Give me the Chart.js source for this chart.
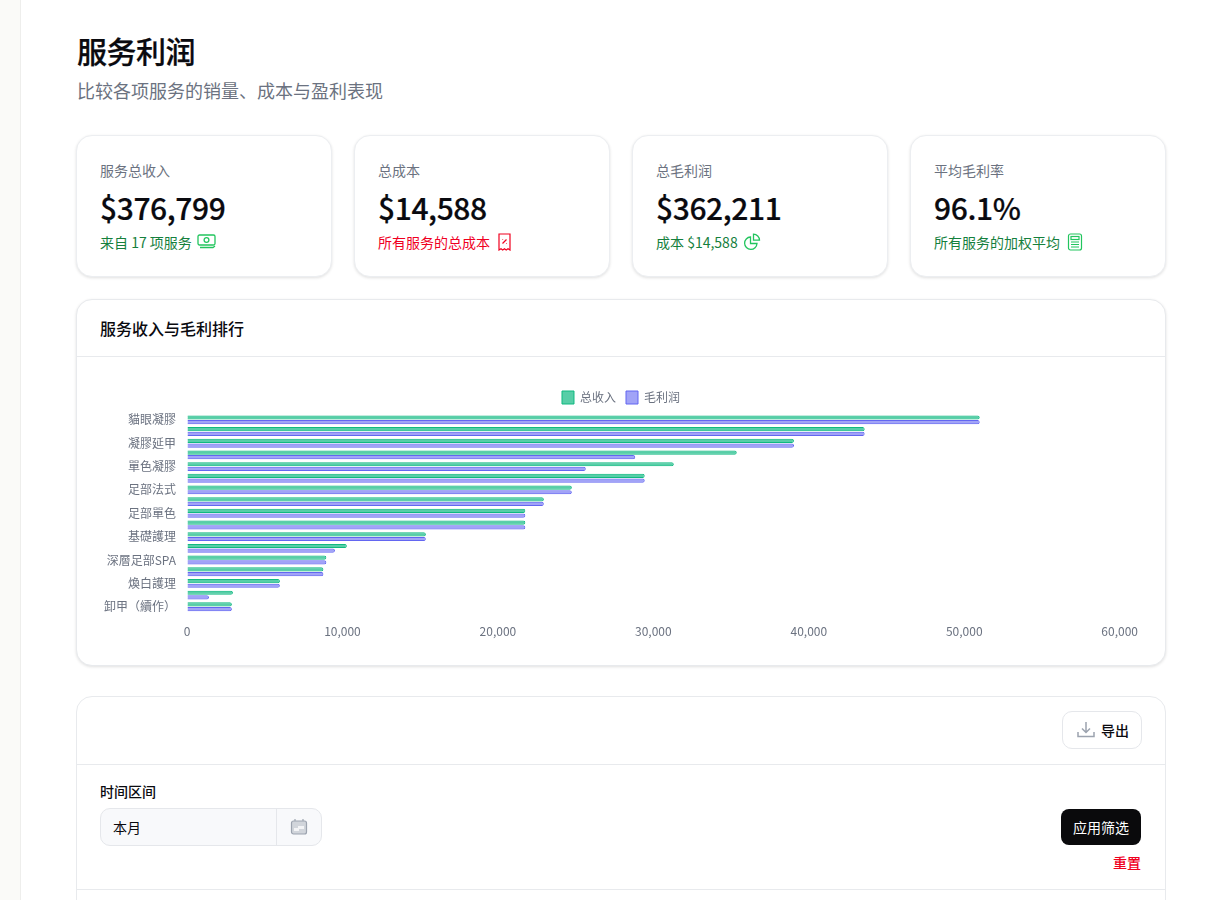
<!DOCTYPE html>
<html lang="zh">
<head>
<meta charset="utf-8">
<title>服务利润</title>
<script src="https://cdn.jsdelivr.net/npm/chart.js@4"></script>
<style>
  * { box-sizing: border-box; }
  html, body { margin: 0; height: 900px; overflow: hidden; background: #fff; color: #0a0a0f;
    font-family: "Noto Sans CJK SC", "Noto Sans", sans-serif; }
  .abs, .card, .panel { position: absolute; }
  .side { position: absolute; left: 0; top: 0; width: 21px; height: 900px; background: #fafaf8; border-right: 1px solid #eeeeec; }
  h1 { position: absolute; left: 77px; top: 28px; margin: 0; font-size: 30px; line-height: 44px; font-weight: 500; letter-spacing: -.5px; -webkit-text-stroke: .25px #0a0a0f; }
  .sub { left: 77px; top: 77px; font-size: 18px; line-height: 26px; color: #6b7280; }
  .card { top: 135px; width: 256px; height: 142px; background: #fff; border: 1px solid #eceef1; border-radius: 16px;
    box-shadow: 0 1px 3px rgba(0,0,0,.12); }
  .card .lbl { position: absolute; left: 23px; top: 24px; font-size: 14px; line-height: 20px; color: #6b7280; }
  .card .val { position: absolute; left: 23px; top: 48px; font-size: 30px; line-height: 46px; font-weight: 500; letter-spacing: -.4px; -webkit-text-stroke: .2px #0a0a0f; }
  .card .note { position: absolute; left: 23px; top: 96px; font-size: 14px; line-height: 20px; display: flex; align-items: center; gap: 5px; white-space: nowrap; }
  .good { color: #15803d; } .bad { color: #f0001f; }
  .panel { left: 76px; width: 1090px; background: #fff; border: 1px solid #e8eaed; border-radius: 16px; }
  .chart-panel { top: 299px; height: 367px; box-shadow: 0 1px 3px rgba(0,0,0,.12); }
  .chart-panel .head { position: absolute; left: 23px; top: 16px; font-size: 16px; line-height: 24px; font-weight: 500; }
  .chart-panel .rule { position: absolute; left: 0; right: 0; top: 56px; height: 1px; background: #e8eaed; }
  .chart-box { position: absolute; left: 23px; top: 81px; width: 1042px; height: 262px; }
  .tools { top: 696px; height: 240px; }
  .line { position: absolute; left: 0; right: 0; height: 1px; background: #e8eaed; }
  .export { left: 1062px; top: 711px; width: 80px; height: 38px; border: 1px solid #e5e7eb; border-radius: 10px; background: #fff; }
  .export span { position: absolute; left: 38px; top: 8px; font-size: 14px; line-height: 20px; font-weight: 500; }
  .field-lbl { left: 100px; top: 781px; font-size: 14px; line-height: 20px; font-weight: 500; }
  .input { left: 100px; top: 808px; width: 222px; height: 38px; background: #f8f9fb; border: 1px solid #e5e7eb; border-radius: 10px; }
  .input span { position: absolute; left: 12px; top: 8px; font-size: 14px; line-height: 20px; }
  .input i { position: absolute; left: 175px; top: 0; width: 1px; height: 36px; background: #e5e7eb; }
  .apply { left: 1061px; top: 809px; width: 80px; height: 36px; background: #0a0a0c; color: #fff; border-radius: 8px;
    font-size: 14px; line-height: 36px; text-align: center; }
  .reset { left: 1113px; top: 852px; font-size: 14px; line-height: 20px; font-weight: 500; color: #f0001f; }
</style>
</head>
<body>
<div class="side"></div>
<h1>服务利润</h1>
<div class="abs sub">比较各项服务的销量、成本与盈利表现</div>

<div class="card" style="left:76px">
  <div class="lbl">服务总收入</div><div class="val">$376,799</div>
  <div class="note good">来自 17 项服务
    <svg width="20" height="16" viewBox="0 0 20 16" fill="none" stroke="#22c55e" stroke-width="1.3"><rect x="1" y="1" width="17" height="10" rx="1.5"/><circle cx="9.5" cy="6" r="2.4"/><path d="M3 13.5h13l2-1.5"/></svg>
  </div>
</div>
<div class="card" style="left:354px">
  <div class="lbl">总成本</div><div class="val">$14,588</div>
  <div class="note bad">所有服务的总成本
    <svg width="18" height="18" viewBox="0 0 18 18" fill="none" stroke="#f0001f" stroke-width="1.2" style="margin-left:1px"><path d="M3 1h11v16l-2-1.3-1.8 1.3-1.7-1.3L6.700 17 5 15.700 3 17z"/><path d="M6.500 10.500l4-4M6.500 6.500h.6M10 10.500h.6"/></svg>
  </div>
</div>
<div class="card" style="left:632px">
  <div class="lbl">总毛利润</div><div class="val">$362,211</div>
  <div class="note good">成本 $14,588
    <svg width="18" height="18" viewBox="0 0 18 18" fill="none" stroke="#22c55e" stroke-width="1.3"><path d="M7.500 4a6.200 6.200 0 1 0 6.500 6.500H7.500z"/><path d="M10.500 1.200a6 6 0 0 1 6 6h-6z"/></svg>
  </div>
</div>
<div class="card" style="left:910px">
  <div class="lbl">平均毛利率</div><div class="val">96.1%</div>
  <div class="note good">所有服务的加权平均
    <svg width="16" height="18" viewBox="0 0 16 18" fill="none" stroke="#22c55e" stroke-width="1.2" style="margin-left:2px"><rect x="1.500" y="1" width="13" height="16" rx="2"/><rect x="4" y="3.500" width="8" height="3"/><path d="M4 9h8M4 11.500h8M4 14h8"/></svg>
  </div>
</div>

<div class="panel chart-panel">
  <div class="head">服务收入与毛利排行</div>
  <div class="rule"></div>
  <div class="chart-box"><canvas id="rankChart"></canvas></div>
</div>

<div class="panel tools">
  <div class="line" style="top:67px"></div>
  <div class="line" style="top:192px"></div>
</div>
<div class="abs export">
  <svg class="abs" style="left:13px;top:8px" width="20" height="20" viewBox="0 0 20 20" fill="none" stroke="#9ca3af" stroke-width="1.5"><path d="M2 12v4.500h16V12M10 2v10M6 8.500l4 4 4-4"/></svg>
  <span>导出</span>
</div>
<div class="abs field-lbl">时间区间</div>
<div class="abs input">
  <span>本月</span><i></i>
  <svg class="abs" style="left:189px;top:9px" width="18" height="18" viewBox="0 0 18 18"><path d="M5 1v3M13 1v3" stroke="#9ca3af" stroke-width="1.200"/><rect x="1.500" y="3" width="15" height="13" rx="2" fill="#d1d5db" stroke="#9ca3af" stroke-width="1.200"/><rect x="8" y="8" width="6" height="3" fill="#f3f4f6"/><rect x="4" y="10" width="5" height="3" fill="#f3f4f6"/></svg>
</div>
<div class="abs apply">应用筛选</div>
<div class="abs reset">重置</div>

<script>
// only every second name is readable on the axis, the skipped ones stay blank
const serviceNames = ["貓眼凝膠", "", "凝膠延甲", "", "單色凝膠", "", "足部法式", "", "足部單色", "", "基礎護理", "", "深層足部SPA", "", "煥白護理", "", "卸甲（續作）"];
const totalRevenue = [51000, 43600, 39050, 35370, 31320, 29450, 24760, 22960, 21770, 21770, 15370, 10290, 8970, 8780, 5980, 2960, 2890];
const grossProfit = [51000, 43600, 39050, 28840, 25660, 29450, 24760, 22960, 21770, 21770, 15370, 9520, 8970, 8780, 5980, 1415, 2890];

const FONT = '"Noto Sans CJK SC", "Noto Sans", sans-serif';

function renderRankChart() {
    const ctx = document.getElementById('rankChart').getContext('2d');

    new Chart(ctx, {
        type: 'bar',
        data: {
            labels: serviceNames,
            datasets: [{
                label: "总收入",
                data: totalRevenue,
                backgroundColor: "rgba(16, 185, 129, 0.7)",
                borderColor: "#10b981",
                borderWidth: 1,
                borderRadius: 2
            }, {
                label: "毛利润",
                data: grossProfit,
                backgroundColor: "rgba(99, 102, 241, 0.6)",
                borderColor: "#6366f1",
                borderWidth: 1,
                borderRadius: 2
            }]
        },
        options: {
            indexAxis: 'y',
            animation: false,
            responsive: true,
            maintainAspectRatio: false,
            plugins: {
                legend: {
                    position: 'top',
                    labels: { boxWidth: 12, boxHeight: 13, color: '#6b7280', font: { family: FONT, size: 12 } }
                },
                tooltip: { enabled: false }
            },
            scales: {
                x: {
                    beginAtZero: true,
                    max: 60000,
                    ticks: { stepSize: 10000, padding: 4, color: '#6b7280', font: { family: FONT, size: 12 }, maxRotation: 0 },
                    grid: { color: 'transparent' },
                    border: { display: false }
                },
                y: {
                    ticks: {
                        autoSkip: false,
                        color: '#6b7280',
                        font: { family: FONT, size: 12 }
                    },
                    grid: { color: 'transparent' },
                    border: { display: false },
                    afterFit(scale) { scale.width = 87; }
                }
            }
        }
    });
}

window.addEventListener('DOMContentLoaded', renderRankChart);
</script>
</body>
</html>
